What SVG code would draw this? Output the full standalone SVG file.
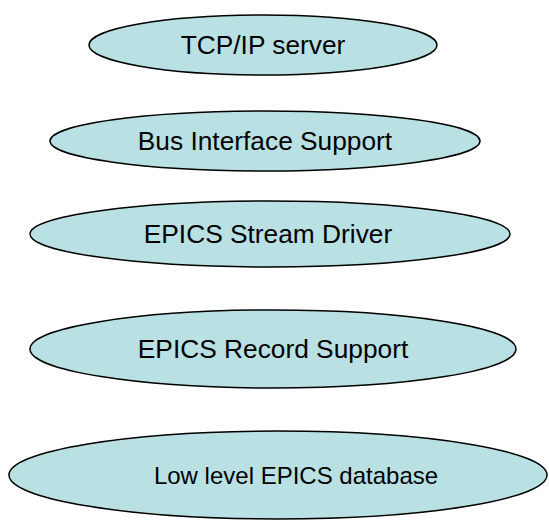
<svg xmlns="http://www.w3.org/2000/svg" width="549" height="527" viewBox="0 0 549 527">
<style>
.n ellipse{fill:#b9e0e3;stroke:#000;stroke-width:1.5}
.n text{font-family:"Liberation Sans",Arial,sans-serif;font-size:26.3px;fill:#000;text-anchor:middle}
</style>
<rect width="549" height="527" fill="#fff"/>
<g id="tcp" class="n"><ellipse cx="263" cy="45" rx="174" ry="30"/><text x="263" y="54">TCP/IP server</text></g>
<g id="bus" class="n"><ellipse cx="265" cy="141" rx="215" ry="30"/><text x="265" y="150">Bus Interface Support</text></g>
<g id="stream" class="n"><ellipse cx="270" cy="234" rx="240" ry="33"/><text x="268" y="243">EPICS Stream Driver</text></g>
<g id="record" class="n"><ellipse cx="273" cy="349" rx="243" ry="39"/><text x="273" y="358">EPICS Record Support</text></g>
<g id="db" class="n"><ellipse cx="278" cy="475" rx="269" ry="44"/><text x="296" y="484" style="font-size:24px">Low level EPICS database</text></g>
<g id="connectors"/>
</svg>
